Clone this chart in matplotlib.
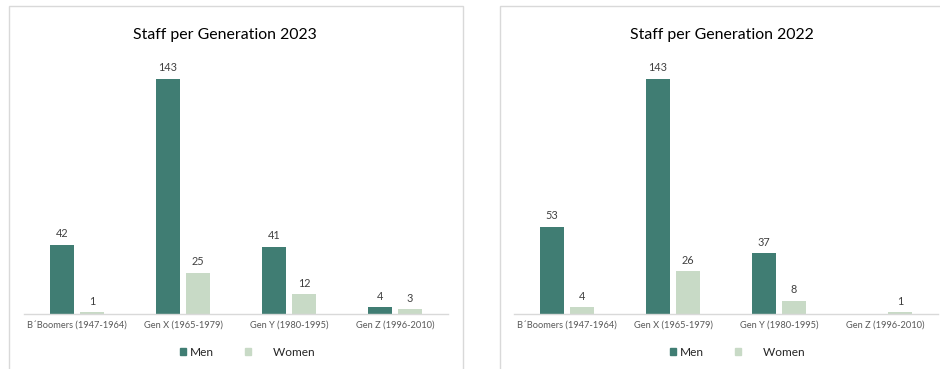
import numpy as np
import matplotlib
matplotlib.use("Agg")
import matplotlib.pyplot as plt
from matplotlib.patches import Rectangle, Patch

plt.rcParams['font.family'] = ['Lato', 'DejaVu Sans']

# data
generations = ["B´Boomers (1947-1964)", "Gen X (1965-1979)", "Gen Y (1980-1995)", "Gen Z (1996-2010)"]
men_2023 = [42, 143, 41, 4]
women_2023 = [1, 25, 12, 3]
men_2022 = [53, 143, 37, 0]
women_2022 = [4, 26, 8, 1]
titles = ["Staff per Generation 2023", "Staff per Generation 2022"]

men_color = '#407D73'
women_color = '#C8DAC6'
W, H = 940, 369

fig = plt.figure(figsize=(9.4, 3.69), dpi=100)

# panel frames (the right one runs off the image edge)
fig.patches.append(Rectangle((9 / W, -0.1), 454 / W, 1.1 - 6 / H, transform=fig.transFigure,
                             fill=False, edgecolor='#D9D9D9', linewidth=1))
fig.patches.append(Rectangle((500 / W, -0.1), 0.6, 1.1 - 6 / H, transform=fig.transFigure,
                             fill=False, edgecolor='#D9D9D9', linewidth=1))


def draw_panel(left_px, title_x, legend_x, title, men, women):
    ax = fig.add_axes([left_px / W, (H - 314) / H, 424 / W, 263 / H])
    x = np.arange(len(generations))
    bw = 0.225
    off = 0.142
    b1 = ax.bar(x - off, men, bw, color=men_color)
    b2 = ax.bar(x + off, women, bw, color=women_color)
    for bars, vals in ((b1, men), (b2, women)):
        labels = [str(v) if v > 0 else '' for v in vals]
        ax.bar_label(bars, labels=labels, padding=4, fontsize=7.8, color='#404040')
    ax.set_xlim(-0.5, 3.5)
    ax.set_ylim(0, 160)
    ax.set_xticks(x)
    ax.set_xticklabels(generations, fontsize=6.7, color='#595959')
    ax.tick_params(axis='x', length=0, pad=5)
    ax.set_yticks([])
    for s in ('top', 'right', 'left'):
        ax.spines[s].set_visible(False)
    ax.spines['bottom'].set_color('#D9D9D9')
    ax.spines['bottom'].set_linewidth(1)
    fig.text(title_x / W, 1 - 35 / H, title, ha='center', va='center', fontsize=11.4, color='black')
    handles = [Patch(color=men_color), Patch(color=women_color)]
    ax.legend(handles, ['Men', '      Women'], loc='center', ncol=2, frameon=False,
              bbox_to_anchor=(legend_x / W, 1 - 352 / H), bbox_transform=fig.transFigure,
              fontsize=8.6, handlelength=0.55, handleheight=0.55, handletextpad=0.3,
              columnspacing=2.6, labelcolor='#262626')
    return ax


draw_panel(24, 225, 247, titles[0], men_2023, women_2023)
draw_panel(514, 722, 737, titles[1], men_2022, women_2022)

fig.savefig('out.png', dpi=100, facecolor='white')
